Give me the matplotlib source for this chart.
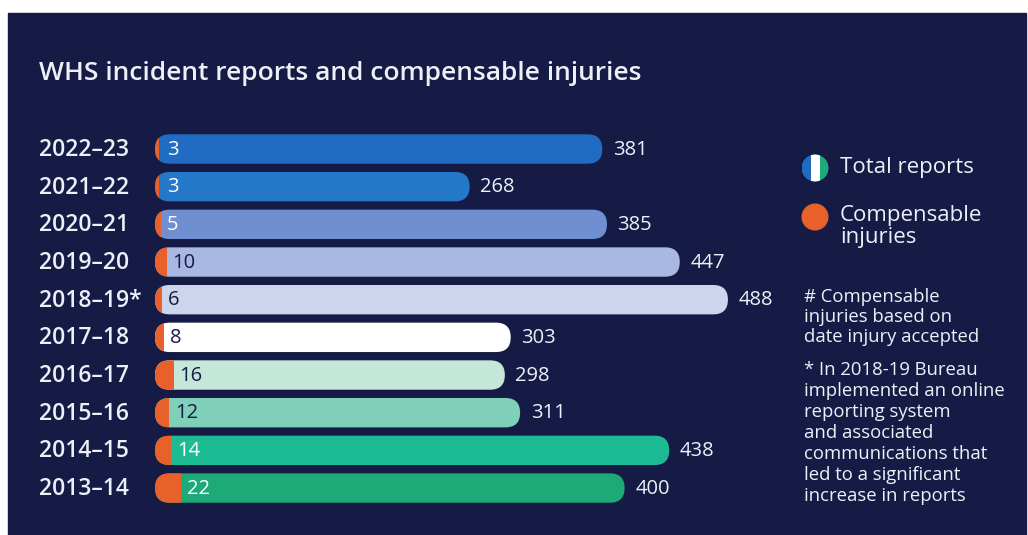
import matplotlib
matplotlib.use('Agg')
import matplotlib.pyplot as plt
from matplotlib.patches import FancyBboxPatch, Rectangle, Circle

# data
years = ['2022–23', '2021–22', '2020–21', '2019–20', '2018–19*',
         '2017–18', '2016–17', '2015–16', '2014–15', '2013–14']
total_reports = [381, 268, 385, 447, 488, 303, 298, 311, 438, 400]
compensable = [3, 3, 5, 10, 6, 8, 16, 12, 14, 22]

bar_colors = ['#1f6cc2', '#2577c8', '#6f8fd0', '#a8b8e2', '#cdd5ed',
              '#ffffff', '#c4e7da', '#80cfb8', '#1dbb93', '#1ea978']
inner_text = ['white', 'white', 'white', '#161b45', '#161b45',
              '#161b45', '#161b45', '#161b45', 'white', 'white']
orange = '#e8612b'
bg = '#161b45'
fg = '#eef0f8'

plt.rcParams['font.family'] = ['Open Sans', 'DejaVu Sans']

W, H = 1028, 535
fig = plt.figure(figsize=(W / 100, H / 100), dpi=100)
fig.patch.set_facecolor('white')

# overlay axes in pixel coords for background, title, legend, notes
ov = fig.add_axes([0, 0, 1, 1])
ov.set_xlim(0, W)
ov.set_ylim(H, 0)
ov.axis('off')
ov.add_patch(Rectangle((8, 13), 1018, 530, color=bg, zorder=0))

ov.text(39, 73, 'WHS incident reports and compensable injuries', color=fg,
        fontsize=19, fontweight='semibold', va='center', ha='left')

# bar axes
px_per_unit = 1.174
row_px = 37.67
x0_px, top_px = 155, 149 - row_px / 2
xmax = 500
ax = fig.add_axes([x0_px / W, (H - top_px - 10 * row_px) / H,
                   xmax * px_per_unit / W, 10 * row_px / H])
ax.set_xlim(0, xmax)
ax.set_ylim(9.5, -0.5)
ax.axis('off')
ax.patch.set_alpha(0)

bar_h = 0.78
r_x = (bar_h / 2) * row_px / px_per_unit
aspect = (bar_h / 2) / r_x

for i, (yr, tot, comp) in enumerate(zip(years, total_reports, compensable)):
    bar = FancyBboxPatch((0, i - bar_h / 2), tot, bar_h,
                         boxstyle='round,pad=0,rounding_size=%f' % r_x,
                         mutation_aspect=aspect, fc=bar_colors[i], ec='none', zorder=2)
    ax.add_patch(bar)
    o = Rectangle((0, i - bar_h / 2), comp, bar_h, fc=orange, ec='none', zorder=3)
    ax.add_patch(o)
    o.set_clip_path(bar)
    ax.text(max(comp + 5, 10), i + 0.02, str(comp), color=inner_text[i], fontsize=14.5,
            va='center', ha='left', zorder=4)
    ax.text(tot + 9, i + 0.02, str(tot), color=fg, fontsize=14.5, va='center', ha='left')
    ov.text(39, 150 + i * row_px, yr, color=fg, fontsize=16.5, fontweight='semibold',
            va='center', ha='left')

# legend
c1 = Circle((815, 168), 13.5, fc='none', ec='none')
ov.add_patch(c1)
for k, col in enumerate(['#1f6cc2', '#ffffff', '#1ea978']):
    s = Rectangle((801.5 + k * 9, 150), 9, 36, fc=col, ec='none', zorder=3)
    ov.add_patch(s)
    s.set_clip_path(c1)
ov.add_patch(Circle((815, 217), 13.5, fc=orange, ec='none', zorder=3))
ov.text(840, 167, 'Total reports', color=fg, fontsize=16, va='center', ha='left')
ov.text(840, 205, 'Compensable\ninjuries', color=fg, fontsize=16, va='top', ha='left',
        linespacing=1.05)

ov.text(804, 288, '# Compensable\ninjuries based on\ndate injury accepted', color=fg,
        fontsize=13.3, va='top', ha='left', linespacing=1.15)
ov.text(804, 361, '* In 2018-19 Bureau\nimplemented an online\nreporting system\n'
        'and associated\ncommunications that\nled to a significant\nincrease in reports',
        color=fg, fontsize=13.3, va='top', ha='left', linespacing=1.22)

fig.savefig('out.png', dpi=100, facecolor=fig.get_facecolor())
